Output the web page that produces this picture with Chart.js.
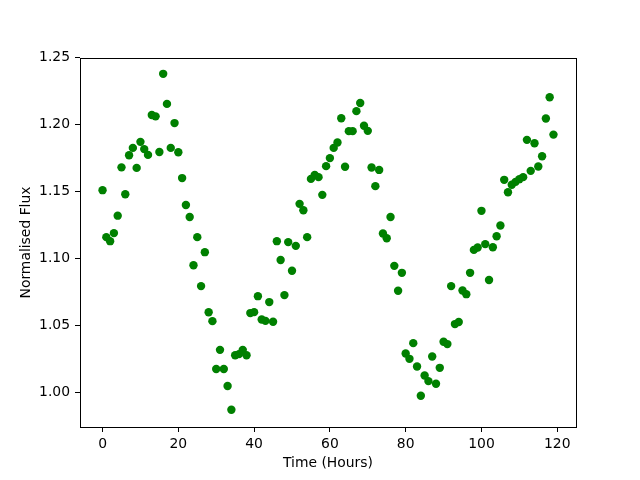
<!DOCTYPE html>
<html>
<head>
<meta charset="utf-8">
<script src="https://cdn.jsdelivr.net/npm/chart.js@4"></script>
<style>
html, body { margin: 0; padding: 0; background: #fff; }
canvas { display: block; }
</style>
</head>
<body>
<canvas id="c" width="640" height="480"></canvas>
<script>
const hours = Array.from({length: 120}, (_, i) => i);
const flux = [
  1.151, 1.116, 1.113, 1.119, 1.132, 1.168, 1.148, 1.177, 1.1825, 1.1676,
  1.187, 1.1816, 1.1773, 1.207, 1.206, 1.1795, 1.2377, 1.2153, 1.1825, 1.201,
  1.1793, 1.160, 1.140, 1.131, 1.095, 1.116, 1.0795, 1.1048, 1.060, 1.0534,
  1.0177, 1.032, 1.0177, 1.005, 0.9873, 1.028, 1.0288, 1.032, 1.028, 1.0594,
  1.0601, 1.072, 1.0546, 1.0536, 1.0676, 1.0529, 1.113, 1.099, 1.0728, 1.1123,
  1.0909, 1.1095, 1.1408, 1.136, 1.116, 1.1594, 1.1624, 1.1607, 1.1475, 1.1689,
  1.1749, 1.1825, 1.1865, 1.2046, 1.1684, 1.195, 1.195, 1.2099, 1.216, 1.199,
  1.1952, 1.1679, 1.154, 1.1661, 1.1187, 1.1152, 1.131, 1.0946, 1.076, 1.0894,
  1.0293, 1.0253, 1.037, 1.0196, 0.9978, 1.0129, 1.0087, 1.027, 1.0067, 1.0186,
  1.038, 1.0363, 1.0795, 1.0512, 1.0527, 1.0762, 1.0735, 1.0894, 1.1065, 1.1083,
  1.1356, 1.1108, 1.084, 1.1085, 1.1167, 1.1247, 1.1587, 1.1495, 1.155, 1.1572,
  1.1592, 1.1607, 1.1885, 1.1654, 1.186, 1.1686, 1.1763, 1.2044, 1.2203, 1.1924
];
const xTicks = [0, 20, 40, 60, 80, 100, 120];
const yTicks = [1.00, 1.05, 1.10, 1.15, 1.20, 1.25];

const points = hours.map((h, i) => ({x: h, y: flux[i]}));
const font = {family: 'DejaVu Sans', size: 13.9};

const frame = {
  id: 'frame',
  afterDraw(chart) {
    const {ctx, chartArea: a} = chart;
    ctx.save();
    ctx.strokeStyle = '#000';
    ctx.lineWidth = 1;
    ctx.strokeRect(Math.round(a.left) + 0.5, Math.round(a.top) + 0.5,
                   Math.round(a.right - a.left), Math.round(a.bottom - a.top));
    ctx.restore();
  }
};

new Chart(document.getElementById('c'), {
  type: 'scatter',
  data: {
    datasets: [{
      data: points,
      backgroundColor: '#008000',
      borderColor: '#008000',
      borderWidth: 0,
      pointRadius: 4.2,
      pointHoverRadius: 4.2
    }]
  },
  options: {
    responsive: false,
    devicePixelRatio: 1,
    animation: false,
    layout: {padding: {left: 0, top: 58, right: 64, bottom: 0}},
    plugins: {legend: {display: false}, tooltip: {enabled: false}},
    scales: {
      x: {
        type: 'linear',
        position: 'bottom',
        min: -5.95,
        max: 124.95,
        afterBuildTicks: s => { s.ticks = xTicks.map(v => ({value: v})); },
        afterFit: s => { s.height = 53; },
        grid: {drawOnChartArea: false, drawTicks: true, tickLength: 5, color: '#000'},
        border: {display: true, color: '#000'},
        ticks: {color: '#000', font: font, padding: 4, maxRotation: 0, callback: v => String(v)},
        title: {display: true, text: 'Time (Hours)', color: '#000', font: font, padding: {top: 0, bottom: 8}}
      },
      y: {
        type: 'linear',
        min: 0.9745,
        max: 1.2495,
        afterBuildTicks: s => { s.ticks = yTicks.map(v => ({value: v})); },
        afterFit: s => { s.width = 80; },
        grid: {drawOnChartArea: false, drawTicks: true, tickLength: 5, color: '#000'},
        border: {display: true, color: '#000'},
        ticks: {color: '#000', font: font, padding: 5, callback: v => Number(v).toFixed(2)},
        title: {display: true, text: 'Normalised Flux', color: '#000', font: font, padding: {top: 18, bottom: 0}}
      }
    }
  },
  plugins: [frame]
});
</script>
</body>
</html>
